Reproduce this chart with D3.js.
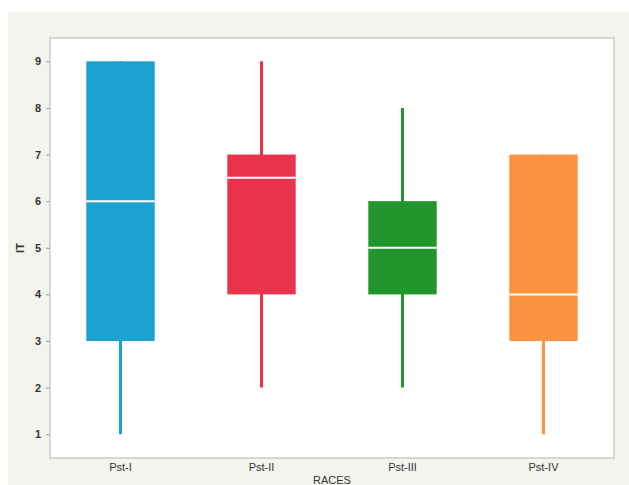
<!DOCTYPE html>
<html>
<head>
<meta charset="utf-8">
<script src="https://cdn.jsdelivr.net/npm/d3@7"></script>
<style>
  html, body { margin: 0; padding: 0; background: #ffffff; }
  svg { display: block; }
  text { font-family: "Liberation Sans", Arial, sans-serif; }
</style>
</head>
<body>
<script>
// Five-number summaries of IT per race group
const categories = ["Pst-I", "Pst-II", "Pst-III", "Pst-IV"];
const mins    = [1, 2, 2, 1];
const q1s     = [3, 4, 4, 3];
const medians = [6, 6.5, 5, 4];
const q3s     = [9, 7, 6, 7];
const maxs    = [9, 9, 8, 7];
const colors  = ["#1ca2d1", "#ea344c", "#22962c", "#fb9442"];
const yTicks  = [1, 2, 3, 4, 5, 6, 7, 8, 9];

const W = 629, H = 485;
const frame = { left: 50, top: 38, right: 614, bottom: 458 };

const svg = d3.select("body").append("svg")
  .attr("width", W).attr("height", H);

// panel background
svg.append("rect")
  .attr("x", 8).attr("y", 12)
  .attr("width", W - 8).attr("height", H - 12)
  .attr("fill", "#f4f4ef");

// plot area
svg.append("rect")
  .attr("x", frame.left).attr("y", frame.top)
  .attr("width", frame.right - frame.left)
  .attr("height", frame.bottom - frame.top)
  .attr("fill", "#ffffff")
  .attr("stroke", "#c9c9c9")
  .attr("stroke-width", 1.5);

const x = d3.scaleBand()
  .domain(categories)
  .range([frame.left, frame.right])
  .padding(0);

const y = d3.scaleLinear()
  .domain([0.49, 9.5])
  .range([frame.bottom, frame.top]);

const boxW = x.bandwidth() * 0.485;

const rows = categories.map((c, i) => ({
  cat: c, min: mins[i], q1: q1s[i], med: medians[i], q3: q3s[i], max: maxs[i], color: colors[i]
}));

const g = svg.append("g");

// whiskers
g.selectAll("line.whisker")
  .data(rows)
  .join("line")
  .attr("class", "whisker")
  .attr("x1", d => x(d.cat) + x.bandwidth() / 2)
  .attr("x2", d => x(d.cat) + x.bandwidth() / 2)
  .attr("y1", d => y(d.min))
  .attr("y2", d => y(d.max))
  .attr("stroke", d => d.color)
  .attr("stroke-width", 3);

// boxes
g.selectAll("rect.box")
  .data(rows)
  .join("rect")
  .attr("class", "box")
  .attr("x", d => x(d.cat) + (x.bandwidth() - boxW) / 2)
  .attr("width", boxW)
  .attr("y", d => y(d.q3))
  .attr("height", d => y(d.q1) - y(d.q3))
  .attr("fill", d => d.color);

// medians
g.selectAll("line.median")
  .data(rows)
  .join("line")
  .attr("class", "median")
  .attr("x1", d => x(d.cat) + (x.bandwidth() - boxW) / 2)
  .attr("x2", d => x(d.cat) + (x.bandwidth() + boxW) / 2)
  .attr("y1", d => y(d.med))
  .attr("y2", d => y(d.med))
  .attr("stroke", "#ffffff")
  .attr("stroke-width", 2);

// y axis
const yAxis = svg.append("g")
  .attr("transform", `translate(${frame.left},0)`)
  .call(d3.axisLeft(y).tickValues(yTicks).tickSize(4).tickPadding(5).tickFormat(d3.format("d")));
yAxis.select(".domain").remove();
yAxis.selectAll(".tick line").attr("stroke", "#9a9a9a");
yAxis.selectAll(".tick text")
  .attr("fill", "#333333")
  .style("font-size", "11px")
  .style("font-weight", "bold");

// x axis
const xAxis = svg.append("g")
  .attr("transform", `translate(0,${frame.bottom})`)
  .call(d3.axisBottom(x).tickSize(0).tickPadding(5));
xAxis.select(".domain").remove();
xAxis.selectAll(".tick text")
  .attr("fill", "#333333")
  .style("font-size", "11px");

// axis titles
svg.append("text")
  .attr("x", (frame.left + frame.right) / 2)
  .attr("y", 484)
  .attr("text-anchor", "middle")
  .attr("fill", "#333333")
  .style("font-size", "11px")
  .text("RACES");

svg.append("text")
  .attr("transform", `translate(24,${(frame.top + frame.bottom) / 2}) rotate(-90)`)
  .attr("text-anchor", "middle")
  .attr("fill", "#333333")
  .style("font-size", "11px")
  .style("font-weight", "bold")
  .text("IT");
</script>
</body>
</html>
